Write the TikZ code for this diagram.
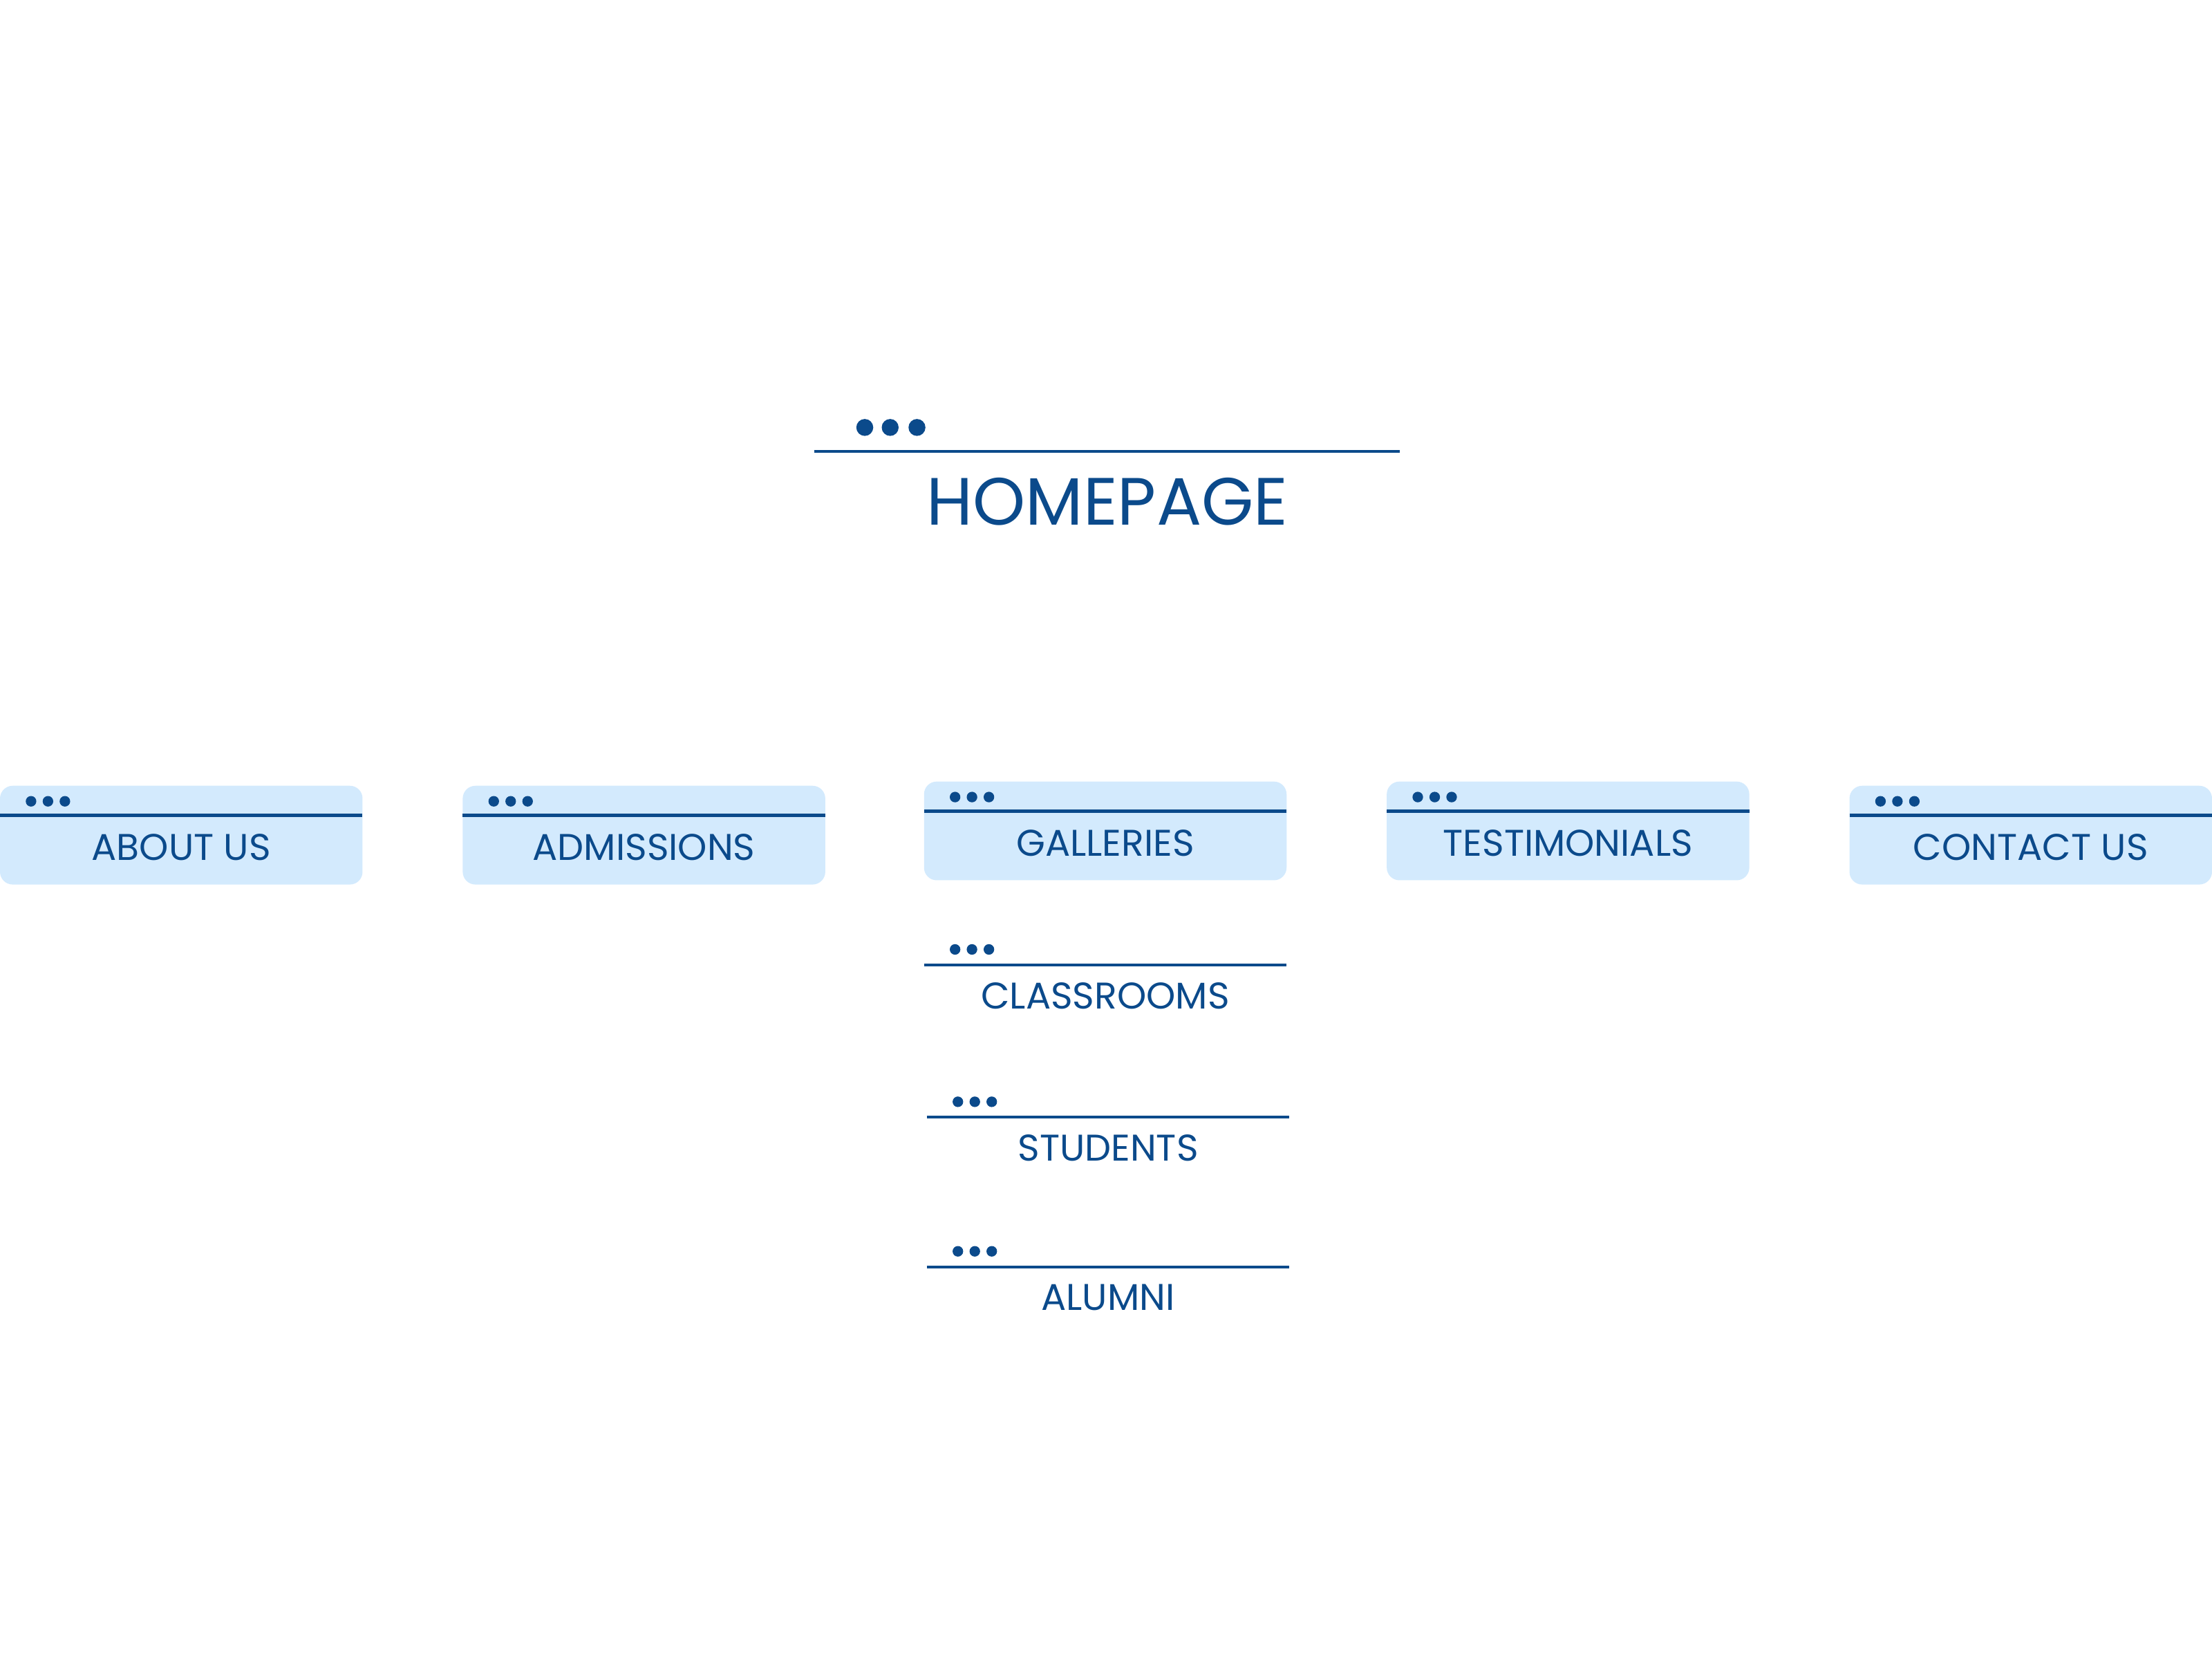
\documentclass[tikz,border=0pt]{standalone}
\usepackage{fontspec}
\setmainfont{Poppins}
\definecolor{db}{HTML}{0B4A8B}
\definecolor{lb}{HTML}{D3EAFD}
\begin{document}
\begin{tikzpicture}[x=0.02cm,y=-0.02cm,
  box/.style={fill=lb,rounded corners=0.18cm},
  bar/.style={draw=db,line width=1.2pt},
  lbl/.style={text=db,font=\fontsize{15}{18}\selectfont,inner sep=0pt,anchor=base}]
\useasboundingbox (0,0) rectangle (1568,1176);
% homepage
\foreach \x in {613,631,650} \fill[db] (\x,303) circle (0.12cm);
\draw[bar] (577,320) -- (992,320);
\node[text=db,font=\fontsize{27}{30}\selectfont,inner sep=0pt,anchor=base] (home) at (785,372) {HOMEPAGE};
% boxes
\newcommand{\mybox}[4]{% x, ytop, name, text
  \fill[box] (#1,#2) rectangle ++(257,70);
  \draw[bar] (#1,#2+21) -- ++(257,0);
  \foreach \d in {22,34,46} \fill[db] (#1+\d,#2+11) circle (0.075cm);
  \node[lbl] (#3) at (#1+128.5,#2+53) {#4};}
\mybox{0}{557}{about}{ABOUT US}
\mybox{328}{557}{adm}{ADMISSIONS}
\mybox{655}{554}{gal}{GALLERIES}
\mybox{983}{554}{test}{TESTIMONIALS}
\mybox{1311}{557}{contact}{CONTACT US}
% sub items
\newcommand{\mysub}[4]{% x, yline, name, text
  \draw[bar] (#1,#2) -- ++(257,0);
  \foreach \d in {22,34,46} \fill[db] (#1+\d,#2-11) circle (0.075cm);
  \node[lbl] (#3) at (#1+128.5,#2+31) {#4};}
\mysub{655}{684}{cls}{CLASSROOMS}
\mysub{657}{792}{stu}{STUDENTS}
\mysub{657}{898}{alu}{ALUMNI}
\end{tikzpicture}
\end{document}
